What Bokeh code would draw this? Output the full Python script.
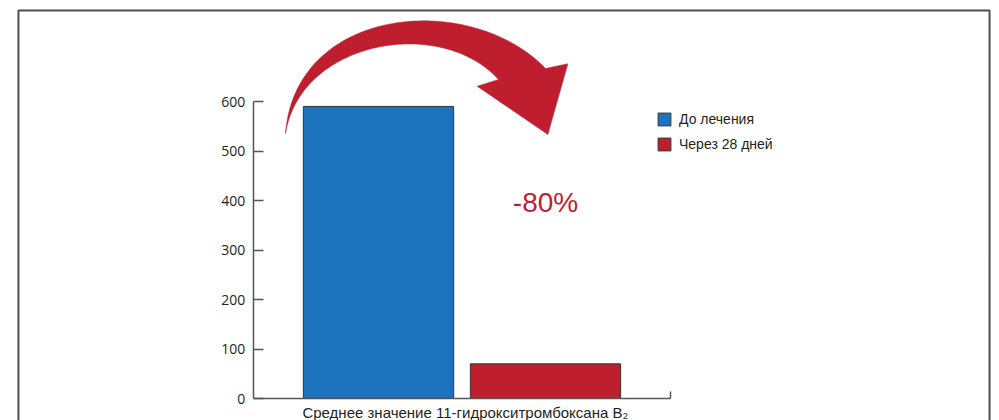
import numpy as np
from bokeh.plotting import figure
from bokeh.models import ColumnDataSource, Range1d, FixedTicker, Legend, LegendItem
from bokeh.core.properties import value
from bokeh.embed import file_html
from bokeh.resources import INLINE

# ---------------- data ----------------
categories = ["До лечения", "Через 28 дней"]
values = [590, 70]
bar_colors = ["#1e73be", "#be1e2d"]
y_ticks = [0, 100, 200, 300, 400, 500, 600]
change_label = "-80%"
x_title = "Среднее значение 11-гидрокситромбоксана B₂"

# ---------------- layout constants ----------------
W, H = 999, 420
X0, X1 = -1.2635, 4.7186        # data x at left/right edge of canvas
Y0, Y1 = -44.44, 804.04         # data y at bottom/top edge of canvas
RED = "#be1e2d"
TXT = "#231f20"
AX = "#555555"

p = figure(width=W, height=H, output_backend="svg", toolbar_location=None,
           x_range=Range1d(X0, X1), y_range=Range1d(Y0, Y1),
           min_border=0, min_border_left=0, min_border_right=0,
           min_border_top=0, min_border_bottom=0,
           background_fill_color="white", border_fill_color="white",
           outline_line_color=None, title=None)
p.grid.visible = False

# outer frame of the figure
p.line(x=[-1.156, -1.156, 4.659, 4.659], y=[-120, 783.8, 783.8, -120],
       line_color="#4d4d4d", line_width=2)

# ---------------- bars ----------------
xpos = list(range(1, len(categories) + 1))
src = ColumnDataSource(dict(x=xpos, top=values, color=bar_colors, label=categories))
bars = p.vbar(x="x", top="top", width=0.9, source=src, fill_color="color",
              line_color="#333333", line_width=1)

# ---------------- axes ----------------
ya = p.yaxis[0]
ya.fixed_location = 0.25
ya.bounds = (0, 600)
ya.ticker = FixedTicker(ticks=y_ticks)
ya.minor_tick_line_color = None
ya.major_tick_in = 10
ya.major_tick_out = 0
ya.major_tick_line_color = AX
ya.major_tick_line_width = 1.5
ya.axis_line_color = AX
ya.axis_line_width = 1.5
ya.major_label_text_font = "Open Sans"
ya.major_label_text_font_size = "14px"
ya.major_label_text_color = TXT
ya.major_label_standoff = 8

xa = p.xaxis[0]
xa.fixed_location = 0
xa.bounds = (0.25, 2.75)
xa.ticker = FixedTicker(ticks=[2.75])
xa.minor_tick_line_color = None
xa.major_tick_in = 7
xa.major_tick_out = 0
xa.major_tick_line_color = AX
xa.major_tick_line_width = 1.5
xa.axis_line_color = AX
xa.axis_line_width = 1.5
xa.major_label_overrides = {2.75: ""}

# x axis title
p.text(x=[1.52], y=[-28.5], text=[x_title], text_font=value("Liberation Sans"),
       text_font_size="15px", text_color=TXT, text_align="center",
       text_baseline="alphabetic")

# ---------------- curved arrow ----------------
def bez(a, b, c, d, n=80):
    t = np.linspace(0, 1, n)[:, None]
    a, b, c, d = map(np.asarray, (a, b, c, d))
    return (1 - t) ** 3 * a + 3 * (1 - t) ** 2 * t * b + 3 * (1 - t) * t ** 2 * c + t ** 3 * d

tail = (0.443, 535.4)
outer = bez(tail, (0.503, 793.9), (1.551, 824.2), (2.0, 666.7))
inner = bez(tail, (0.533, 723.2), (1.371, 773.7), (1.719, 644.4))[::-1]
head = np.array([(2.134, 676.2), (2.014, 533.3), (1.591, 630.9)])
poly = np.vstack([outer, head, inner])
p.patch(x=poly[:, 0], y=poly[:, 1], fill_color=RED, line_color=RED, line_width=0.5)

p.text(x=[2.0], y=[396.6], text=[change_label], text_font=value("Liberation Sans"),
       text_font_size="28px", text_color=RED, text_align="center",
       text_baseline="alphabetic")

# ---------------- legend ----------------
items = [LegendItem(label=c, renderers=[bars], index=i) for i, c in enumerate(categories)]
leg = Legend(items=items, location=(656, 268), orientation="vertical",
             glyph_width=16, glyph_height=16, label_height=16, spacing=9,
             label_standoff=7, padding=0, margin=0,
             border_line_color=None, background_fill_alpha=0,
             label_text_font="Liberation Sans", label_text_font_size="14px",
             label_text_color=TXT)
p.add_layout(leg, "center")

open("out.html", "w").write(file_html(p, INLINE))
